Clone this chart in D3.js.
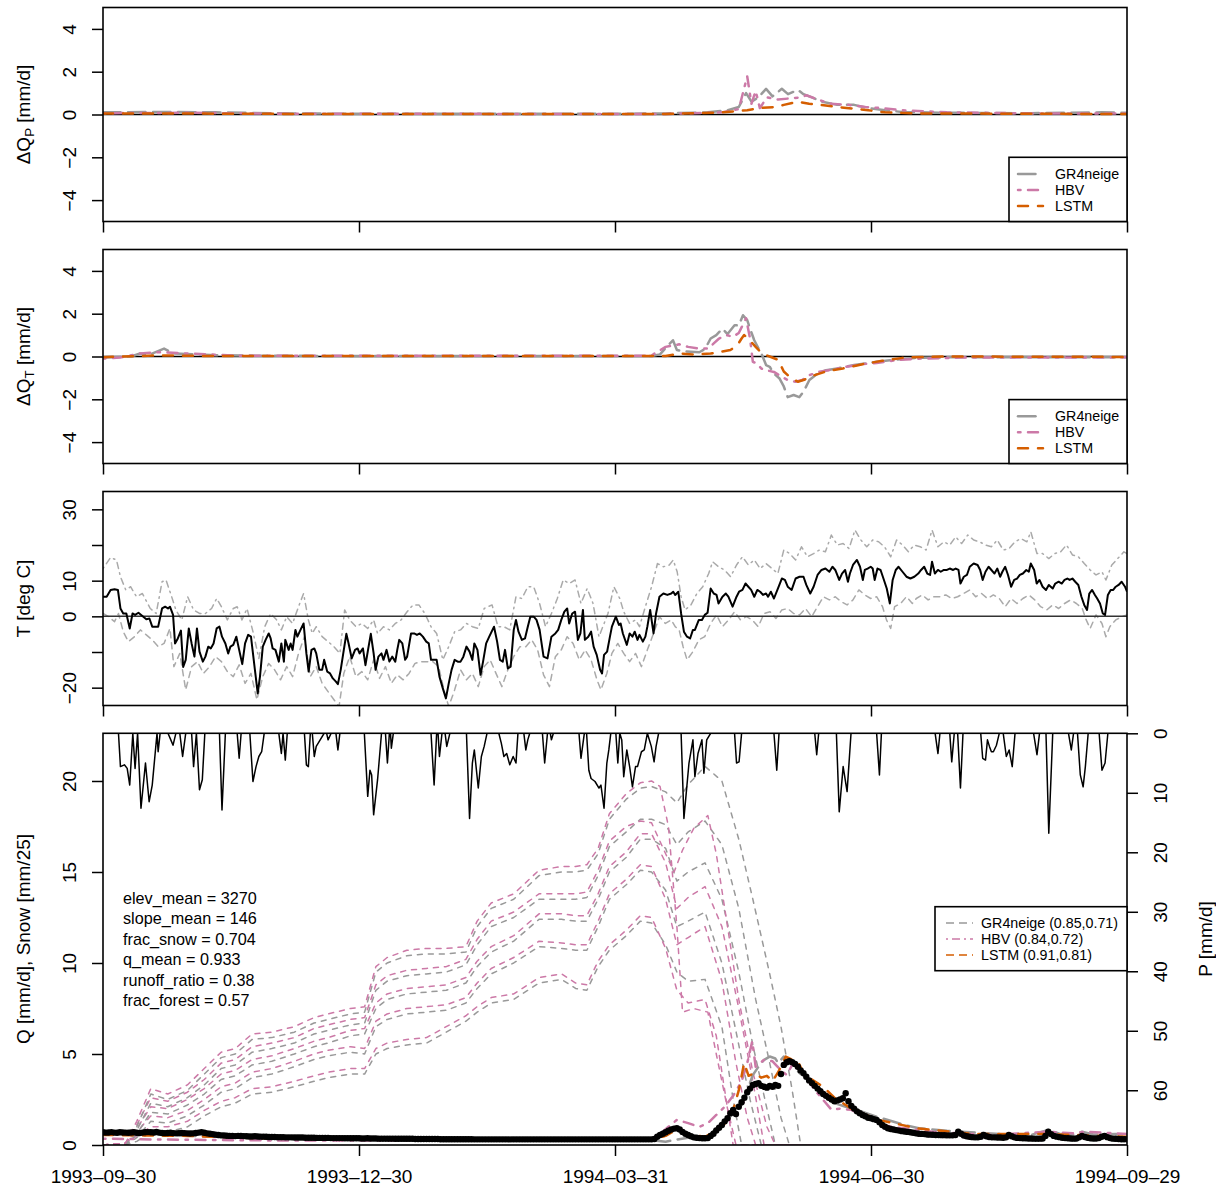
<!DOCTYPE html>
<html>
<head>
<meta charset="utf-8">
<script src="https://cdn.jsdelivr.net/npm/d3@7"></script>
<style>
  body { margin: 0; background: #fff; }
  svg text { font-family: "Liberation Sans", Arial, Helvetica, sans-serif; }
</style>
</head>
<body>
<svg id="chart" width="1216" height="1192"></svg>
<script>
// ---------- data ----------
// all series are [dayIndex, value], day 0 = 1993-09-30
var tickDays = [0, 91, 182, 273, 364];

// panel 1 : dQ_P
var dqpGR4 = [[0,0.1],[20,0.12],[40,0.1],[60,0.06],[90,0.03],[180,0.03],[200,0.05],[215,0.1],[222,0.2],[226,0.35],[228.6,1.0],[230.5,0.6],[233,0.8],[235.7,1.2],[238,0.85],[241.3,1.2],[243.5,0.95],[247,1.15],[249,0.95],[252,0.8],[255.4,0.6],[261,0.45],[267,0.45],[272,0.3],[278,0.2],[284,0.12],[300,0.08],[330,0.06],[355,0.1],[364,0.08]];
var dqpHBV = [[0,0.06],[30,0.08],[60,0.04],[200,0.02],[220,0.1],[226,0.25],[229,1.78],[230.5,0.5],[232,1.1],[233.5,0.3],[236,0.8],[240,0.7],[244,0.75],[248,0.8],[250,0.9],[254,0.7],[259,0.5],[265,0.45],[271,0.35],[277,0.3],[284,0.2],[300,0.1],[330,0.05],[364,0.05]];
var dqpLSTM = [[0,0.05],[40,0.04],[80,0.02],[200,0.02],[220,0.1],[229,0.2],[233,0.3],[239,0.35],[242,0.45],[247,0.6],[251,0.5],[255,0.45],[261,0.35],[272,0.2],[278,0.1],[290,0.05],[364,0.02]];

// panel 2 : dQ_T
var dqtGR4 = [[0,-0.05],[10,0],[13.2,0.14],[16,0.06],[21.7,0.37],[25,0.14],[40,0.06],[60,0.03],[195,0.02],[198,0.1],[200,0.4],[202.6,0.76],[204,0.3],[206,0.25],[212,0.2],[214,0.35],[216,0.84],[218,1.0],[220.2,1.3],[222,1.05],[224.5,1.46],[226,1.45],[227.5,1.93],[229,1.7],[230,1.3],[231.5,0.76],[234.3,0.06],[235.7,-0.4],[237,-0.48],[238.5,-0.8],[240.5,-1.03],[242,-1.4],[243.4,-1.9],[245.5,-1.8],[247.5,-1.9],[249,-1.65],[251.1,-1.1],[254,-0.8],[257,-0.64],[261,-0.56],[267,-0.4],[275,-0.25],[282,-0.14],[290,-0.06],[300,-0.04],[364,-0.03]];
var dqtHBV = [[0,-0.1],[6,-0.05],[13,0.14],[20,0.2],[30,0.14],[50,0.03],[190,0.03],[195,0.05],[200,0.45],[204.8,0.57],[208,0.45],[212,0.37],[215,0.37],[217,0.6],[219,0.84],[221.7,1.0],[224,0.92],[226,1.1],[228.6,1.78],[230,0.84],[231,-0.25],[232.5,-0.33],[234,-0.56],[235.7,-0.64],[238.5,-0.72],[241.3,-0.95],[243.4,-1.1],[246.2,-1.18],[248.5,-1.1],[251.1,-0.87],[254.5,-0.72],[258,-0.64],[264,-0.48],[270,-0.36],[275,-0.3],[282,-0.17],[290,-0.1],[305,-0.05],[364,-0.04]];
var dqtLSTM = [[0,-0.03],[20,0.05],[40,0.02],[200,0.02],[205,0.14],[210,0.09],[216,0.14],[223,0.3],[225.5,0.53],[227,0.84],[227.9,1.0],[230,0.75],[232,0.45],[234.3,0.14],[237,0],[240,-0.16],[242,-0.7],[244,-0.95],[247,-1.18],[249,-1.1],[253,-0.87],[257,-0.7],[263,-0.56],[270,-0.36],[277,-0.2],[285,-0.05],[300,0],[364,-0.02]];

// panel 3 : temperature
var tMean = [[0,5.5],[1.3,5.5],[2.7,7.4],[4.1,7.6],[5.3,7.4],[6.2,2.2],[7.2,0.8],[8.3,0.8],[9.5,-3.4],[10.5,0.8],[11.4,0.4],[12.6,1.0],[14,0.1],[15.4,-0.8],[16.5,-0.6],[17.5,-2.9],[18.5,-2.9],[19.6,-2.9],[21,2.2],[22.1,2.7],[23.1,2.2],[23.8,2.7],[24.9,0.4],[25.6,-7.6],[26.6,-6.2],[27.7,-4.0],[28.5,-14.2],[29.4,-12.2],[30.5,-3.4],[31.5,-7.6],[32.5,-11.3],[33.4,-3.4],[34.3,-9.9],[35.5,-12.7],[36.4,-11.3],[37.4,-8.5],[38.3,-9.0],[39.3,-7.6],[40.4,-3.4],[41.4,-2.9],[42.3,-5.7],[43.5,-7.6],[44.5,-10.4],[45.3,-8.5],[46.3,-8.0],[47.4,-5.7],[48.4,-9.4],[49.5,-13.4],[50.5,-7.6],[51.6,-5.2],[52.6,-5.7],[54,-15.0],[55,-21.6],[55.8,-16.9],[56.8,-8.5],[57.8,-6.6],[58.9,-4.8],[59.6,-6.2],[60.3,-9.0],[61.3,-9.4],[62.5,-12.7],[63.4,-7.6],[64.3,-12.7],[64.8,-6.6],[66,-9.4],[66.7,-7.6],[67.4,-9.4],[68.4,-3.8],[69.1,-5.7],[70.2,-3.8],[71.3,-2.0],[72.3,-10.4],[73.1,-15.5],[74.1,-9.4],[75.1,-9.0],[75.8,-10.4],[76.9,-15.0],[77.9,-15.0],[78.6,-12.2],[79.7,-15.5],[80.7,-16.0],[81.7,-17.4],[82.8,-18.3],[83.5,-19.0],[84.5,-15.0],[85.6,-9.4],[86.5,-4.9],[87.3,-7.6],[88.4,-11.8],[89.6,-9.4],[90.5,-9.0],[91.2,-10.4],[92.4,-9.0],[93.3,-13.7],[94.3,-9.0],[95.2,-4.9],[96.2,-10.4],[96.9,-15.0],[97.9,-11.3],[99,-10.4],[99.7,-12.2],[100.8,-9.4],[101.8,-12.7],[102.8,-11.3],[103.9,-12.7],[104.6,-9.4],[105.3,-6.6],[106.4,-7.6],[107.4,-12.2],[108.1,-11.3],[109.5,-4.8],[110.6,-4.8],[111.6,-5.2],[112.6,-4.8],[113.7,-5.7],[114.9,-7.1],[115.8,-7.6],[116.6,-12.2],[117.9,-12.2],[118.6,-12.2],[119.6,-16.9],[120.8,-20.2],[121.9,-23.0],[122.9,-18.8],[123.9,-15.0],[125,-12.2],[126.1,-12.7],[127.1,-12.7],[128.1,-11.3],[129.2,-8.5],[130.3,-9.9],[131.3,-12.2],[132,-7.6],[133.1,-9.4],[134.2,-16.4],[135.1,-12.7],[136.2,-7.6],[137.3,-5.7],[139,-2.9],[140.1,-7.1],[141.1,-12.2],[142.1,-12.7],[142.9,-9.4],[143.9,-14.6],[144.9,-14.1],[146,-3.8],[146.8,-1.0],[147.7,-4.3],[148.9,-6.6],[150,-6.2],[151,-2.9],[151.9,-0.1],[153.1,-0.1],[154.1,-1.0],[155.2,-3.8],[156.6,-11.3],[158,-11.8],[159.4,-5.7],[160.8,-4.8],[161.8,-3.8],[162.9,-1.0],[164,1.3],[165,2.2],[165.7,-2.0],[166.8,0.8],[167.8,1.3],[168.8,-6.6],[169.7,-4.8],[170.6,1.8],[171.3,-6.6],[172.5,-5.7],[173.5,-4.3],[174.4,-8.5],[175.5,-10.8],[176.7,-15.0],[177.4,-16.0],[178.1,-10.8],[179.2,-9.9],[180.2,-5.7],[180.9,-2.9],[182.3,-0.1],[183.4,-2.4],[184,-2.0],[184.8,-4.8],[186.2,-8.0],[187.2,-4.8],[188.2,-5.7],[189,-4.3],[190,-6.6],[190.7,-5.2],[191.9,-7.1],[192.8,-5.7],[193.5,-2.9],[194.5,1.8],[195.7,-4.8],[196.6,0.8],[197.8,5.5],[199.2,6.4],[200.6,6.0],[202,6.4],[202.7,6.9],[203.4,6.0],[204.5,6.9],[205.5,0.8],[206.5,-4.3],[207.6,-5.7],[208.7,-6.2],[209.7,-3.8],[210.4,-3.8],[211.8,-1.0],[212.9,-1.0],[213.9,0.4],[214.9,1.0],[216,7.8],[217.1,6.4],[218.1,6.0],[218.8,3.6],[220.2,5.5],[221.4,6.4],[222.3,5.5],[223.8,2.7],[225.2,5.5],[226.1,6.9],[227.3,7.4],[228.4,9.2],[229.4,8.3],[230.4,7.4],[231.5,5.5],[232.6,7.4],[233.6,6.9],[234.6,6.0],[235.7,6.4],[236.4,5.5],[237.4,6.9],[238.5,5.0],[239.9,7.8],[241.3,10.6],[242.4,10.2],[243.4,8.3],[244.8,7.4],[246.2,10.6],[247.6,11.1],[249,11.1],[250,8.8],[251.4,6.4],[252.6,8.3],[254,11.6],[255.4,13.0],[256.8,13.4],[258.2,12.5],[259.3,13.9],[260.3,13.0],[261.7,10.2],[262.7,12.0],[263.8,13.0],[264.8,9.7],[265.5,12.0],[266.6,14.4],[268,15.8],[269.1,13.9],[270.1,10.2],[270.8,13.0],[271.8,13.4],[272.9,13.9],[273.6,13.4],[274.3,10.2],[275.3,13.4],[276.4,13.0],[277.6,10.2],[278.6,7.8],[279.7,3.6],[280.7,10.2],[281.8,13.0],[282.8,13.9],[284.2,12.5],[285.6,11.1],[287,10.6],[288.4,11.1],[289.8,12.0],[290.8,13.0],[291.9,13.9],[293,12.0],[294,11.6],[294.7,15.3],[295.7,12.0],[296.8,13.0],[297.8,12.5],[298.9,13.0],[300,13.0],[301,13.4],[302.2,13.0],[303.1,13.4],[304.1,13.0],[304.8,9.2],[306,11.1],[307.1,11.6],[308.1,13.9],[309.5,14.8],[310.9,14.4],[311.8,13.0],[312.7,10.2],[313.7,12.5],[314.8,13.9],[315.8,13.0],[316.9,12.0],[317.9,13.4],[318.9,11.1],[319.7,12.5],[320.7,13.9],[321.7,11.6],[322.8,8.3],[323.9,10.2],[324.9,10.6],[325.9,11.6],[327,12.0],[328.2,13.0],[329.1,12.5],[329.8,14.8],[331,13.0],[331.9,9.2],[332.9,10.2],[334,8.3],[335.2,7.4],[336.2,8.8],[337.6,7.8],[338.5,9.2],[339.7,9.7],[340.8,9.2],[341.8,10.2],[342.8,10.6],[343.6,10.2],[344.6,10.6],[345.6,9.7],[346.7,8.8],[347.8,5.5],[348.8,3.2],[349.8,1.8],[350.6,6.4],[351.6,7.4],[352.6,6.0],[353.4,5.0],[354.4,3.6],[355.4,0.8],[356.2,0.4],[357.2,6.0],[358.2,7.4],[359.1,7.4],[360,8.3],[361,8.8],[362.1,9.7],[363.3,8.3],[364,6.9]];
var tMax = [[0,13.4],[2.7,16.5],[4.8,15.8],[6.2,11.1],[8.1,7.4],[9.8,8.3],[11.9,5.5],[14,6.4],[16.8,2.2],[18.9,0.8],[21,9.7],[22.4,10.2],[24.2,6.0],[25.9,1.8],[28,-1.0],[30.1,5.5],[32.2,1.8],[34.3,0.8],[36.4,0.8],[38.6,2.2],[40.4,5.0],[42.1,2.7],[44.2,-1.0],[46.3,2.2],[47.7,2.7],[49.4,-1.0],[51.2,2.2],[53.3,-4.3],[55.4,-11.8],[57.5,-2.9],[59.6,0.8],[61.7,-1.0],[63.4,-3.8],[65.3,-0.1],[67.4,-2.0],[69.5,2.7],[71.3,6.4],[73,-1.0],[74.4,-4.8],[75.8,-2.9],[77.9,-5.7],[80,-7.1],[82.1,-8.5],[84.2,-10.4],[85.9,1.8],[87.7,-1.0],[89.9,-2.9],[92,-2.0],[94.1,-3.4],[96.2,-1.0],[97.6,-4.8],[99.7,-2.9],[101.8,-3.8],[103.9,-2.0],[106,-1.0],[108.1,1.3],[110.2,3.2],[112.3,3.2],[114.4,0.8],[116.6,-2.9],[118.6,-4.8],[120.8,-12.2],[122.9,-8.5],[125,-4.3],[127.1,-3.8],[129.2,-2.0],[131.3,-2.9],[133.4,-3.4],[135.5,2.2],[138.3,3.2],[140.4,-2.9],[142.5,-2.9],[144.6,-3.8],[146.8,5.5],[148.9,5.0],[151,8.3],[153.1,8.3],[155.2,3.6],[157.3,-2.9],[159.4,0.8],[161.5,5.0],[163.6,10.2],[165.7,9.2],[167.8,10.2],[169.9,3.6],[172.1,7.8],[174.2,3.6],[176.3,-5.7],[179.5,0.8],[181.6,8.3],[183.7,5.0],[185.1,1.3],[187.2,-2.0],[189.3,-1.0],[190.7,-2.9],[192.8,2.7],[195,8.3],[197.1,14.8],[199.2,13.9],[201.3,14.4],[202.7,15.8],[204.1,12.5],[205.5,5.5],[206.9,1.8],[209,3.2],[211.1,6.4],[213.2,8.3],[215.3,12.0],[216.7,15.3],[218.8,13.9],[220.9,13.0],[223.1,11.1],[225.2,14.4],[227.3,16.7],[229.4,14.4],[231.5,15.8],[233.6,13.4],[235.7,14.8],[237.8,13.4],[239.9,12.0],[242,18.6],[244.1,17.6],[246.2,15.8],[248.3,19.5],[250.4,16.7],[252.6,17.6],[254.7,18.6],[256.8,18.1],[258.9,22.8],[261,20.0],[263.1,20.4],[265.2,19.0],[267.3,24.2],[269.4,21.4],[271.5,19.5],[273.6,21.4],[275.7,20.9],[277.8,19.5],[280,16.7],[282.1,21.4],[284.2,20.0],[286.3,18.1],[288.4,20.0],[290.5,19.5],[292.6,18.6],[294.7,24.2],[296.8,19.5],[298.9,20.9],[301,20.0],[303.1,22.3],[305.2,20.4],[307.4,22.8],[309.5,21.4],[311.6,20.9],[313.7,20.0],[315.8,19.5],[317.9,21.4],[320,18.6],[322.1,19.0],[324.2,20.9],[326.3,21.8],[328.4,20.9],[329.8,23.7],[332,17.6],[334,17.6],[336.2,16.2],[338.3,17.6],[340.4,18.1],[342.5,20.0],[344.6,17.2],[346.7,16.7],[348.8,14.8],[350.9,13.0],[353,11.6],[355.1,12.5],[356.5,10.2],[358.6,14.4],[360.7,16.2],[362.9,18.1],[364,17.6]];
var tMin = [[0,0.8],[2,-0.1],[4.1,-1.5],[5.5,0.8],[7.2,-4.3],[9,-7.1],[11.2,-5.7],[13.3,-3.8],[15.4,-5.2],[17.5,-6.6],[19.6,-8.5],[21.7,-7.6],[23.8,-3.4],[25.2,-14.1],[27.3,-10.4],[29.4,-20.6],[31.5,-14.1],[33.6,-12.7],[35.7,-16.0],[37.9,-14.1],[40,-11.3],[42.1,-12.7],[44.2,-15.5],[46.3,-16.9],[48.4,-13.6],[50.5,-18.8],[52.6,-16.0],[54.7,-23.4],[56.8,-16.9],[58.9,-13.2],[61,-15.0],[63.1,-17.8],[65.3,-14.1],[67.4,-16.9],[69.5,-10.4],[71.6,-5.7],[73.7,-16.9],[75.8,-14.1],[77.9,-18.8],[80,-21.1],[82.1,-23.4],[83.9,-25.3],[85.6,-16.0],[87.7,-11.3],[89.9,-16.9],[92,-15.5],[94.1,-17.8],[96.2,-12.2],[98.3,-17.4],[100.4,-14.1],[102.5,-18.8],[104.6,-16.4],[106.7,-17.8],[108.8,-16.0],[110.9,-13.2],[113,-12.7],[115.1,-12.7],[117.2,-12.7],[119.3,-14.1],[121.5,-21.6],[122.9,-25.3],[125,-20.6],[127.1,-15.0],[129.2,-17.8],[131.3,-16.0],[133.4,-19.7],[135.5,-14.1],[137.6,-12.2],[139.7,-16.0],[141.8,-19.7],[143.9,-15.0],[146,-11.3],[148.2,-8.5],[150.3,-8.5],[152.4,-6.6],[154.5,-9.4],[156.6,-16.4],[158.7,-19.7],[160.8,-11.3],[162.9,-9.4],[165,-5.7],[167.1,-7.6],[169.3,-12.2],[171.4,-9.4],[173.5,-12.2],[175.6,-17.8],[177,-20.6],[179.1,-16.0],[180.9,-10.4],[183,-7.6],[185.1,-10.4],[187.2,-12.7],[189.3,-10.4],[191.4,-14.1],[193.5,-9.4],[195.7,-4.8],[197.8,-0.1],[199.9,-2.0],[202,-1.0],[203.4,-2.9],[204.8,-3.8],[206.2,-8.5],[207.6,-12.2],[209.7,-9.9],[211.8,-6.6],[213.9,-5.7],[216,-2.0],[218.1,0.4],[220.2,-2.9],[222.4,-1.0],[224.5,1.3],[226.6,-1.0],[228.7,-0.1],[230.8,-1.0],[232.9,-2.9],[235,0.8],[237.1,1.3],[239.2,-0.6],[241.3,1.8],[243.4,2.2],[245.5,0.8],[247.6,0.4],[249.7,2.2],[251.9,-0.1],[254,2.7],[256.1,5.5],[258.2,4.6],[260.3,5.5],[262.4,4.1],[264.5,3.2],[266.6,4.6],[268.7,7.4],[270.8,6.0],[272.9,5.0],[275,5.5],[277.1,2.7],[278.5,-1.0],[280,-3.4],[281.4,2.7],[283.5,3.6],[285.6,5.5],[287.7,3.6],[289.1,5.0],[291.2,6.0],[293.3,4.6],[295.4,5.5],[297.5,5.5],[299.6,6.0],[301.7,5.0],[303.8,5.5],[305.9,6.4],[308.1,7.4],[310.2,5.5],[312.3,6.4],[314.4,5.0],[316.5,6.0],[318.6,5.0],[320.7,2.7],[322.8,5.0],[324.9,3.6],[327,5.0],[329.1,6.0],[331.2,4.6],[333.3,2.7],[335.5,1.8],[337.6,3.2],[339.7,2.2],[341.8,3.6],[343.9,4.6],[346,3.6],[348.1,2.2],[349.5,-1.0],[350.9,-3.4],[353,0.4],[355.1,-2.0],[356.5,-5.7],[357.9,-2.9],[360,-1.0],[362.2,-0.1],[364,0.4]];

// panel 4 : precipitation (right axis, reversed)
var precip = [[0,0],[5.5,0],[6.2,5.6],[7.6,5.3],[8.6,5.9],[9.5,8.7],[10.6,0],[11.4,5.9],[12.3,0],[13.5,12.6],[15.1,5.0],[16.4,11.5],[17.5,8.7],[19.2,0],[19.6,3.1],[20.3,0],[23.1,0],[24.1,1.1],[24.9,2.0],[25.9,0],[27.3,0],[28.3,3.9],[29.4,0],[31.5,0],[32.2,5.6],[33.2,0],[34.3,9.5],[35.3,7.8],[36.2,0],[41.4,0],[42.3,12.9],[43.5,0],[47.7,0],[48.4,4.2],[49.1,0],[52.2,0],[53.3,8.1],[54.4,5.6],[55.4,3.9],[56.4,3.1],[57.3,0],[62.5,0],[63.4,3.4],[64,0],[64.8,4.5],[65.5,0],[71.6,0],[72.3,5.3],[73,5.6],[73.7,0],[74.4,0],[75.1,3.9],[75.8,2.2],[77.2,1.1],[78.6,0],[79.5,0],[80,1.1],[81.1,0],[82.8,0],[83.5,2.8],[84.2,0],[92.9,0],[94.1,10.6],[94.9,6.2],[95.5,7.0],[96.2,13.7],[97.6,7.8],[99,0],[100.4,0],[101.1,5.0],[101.8,0],[102.2,0],[102.5,2.5],[103.2,0],[116.6,0],[117.7,8.7],[118.6,0],[119.1,0],[119.6,3.9],[120.5,0],[121.6,0],[122.2,2.2],[123.3,0],[129.2,0],[130.3,14.3],[131.3,5.0],[132,2.8],[133.4,9.2],[134.5,3.9],[135.5,2.2],[136.5,0],[140.7,0],[141.6,1.7],[142.5,3.9],[143.5,3.4],[144.6,5.3],[145.8,3.9],[146.8,5.0],[147.5,0],[149.6,0],[150.3,2.8],[151,1.1],[151.7,0],[156.2,0],[157,5.0],[158,0],[159,0],[159.4,1.1],[160.1,0],[169.2,0],[169.9,4.2],[171.1,0],[171.9,0],[172.7,6.2],[173.5,7.6],[174.9,8.1],[176.3,9.2],[177,8.7],[178.1,12.6],[179.1,5.0],[179.8,2.8],[180.5,0],[182.3,0],[183,5.0],[183.7,0],[184.4,1.1],[185.1,7.3],[186.2,2.8],[187.2,5.6],[188.2,9.0],[189.3,5.6],[190,5.6],[191.4,3.1],[192.4,2.8],[193.5,0],[194.9,2.2],[195.9,4.8],[196.6,2.2],[197.5,0],[205.5,0],[206.5,14.3],[208.3,5.0],[209.7,1.1],[210.4,7.3],[211.5,3.4],[212.9,1.1],[213.6,6.7],[214.6,1.1],[216,0],[224.5,0],[225.2,5.0],[226.1,4.8],[227,0],[238.5,0],[239.5,6.2],[240.3,0],[253,0],[253.7,3.6],[254.4,0],[260.7,0],[261.7,13.2],[263.1,5.6],[264.5,9.8],[265.9,0],[275,0],[276,7.0],[276.7,0],[295.8,0],[296.8,3.4],[297.5,0],[301,0],[301.7,4.8],[302.6,0],[303.8,0],[304.8,9.2],[305.7,0],[312,0],[312.7,4.2],[313.7,4.5],[314.4,1.1],[315.1,2.2],[315.8,3.1],[316.5,3.1],[317.6,2.0],[318.6,0],[320,0],[321.1,3.9],[322.1,2.8],[323.2,5.6],[324.2,0],[330.8,0],[332,3.6],[332.9,0],[335.2,0],[336.2,16.8],[337.6,0],[343.2,0],[344.2,2.8],[345,0],[346.4,0],[347.4,7.0],[348.4,9.0],[349.2,5.6],[350.2,0],[354.1,0],[355.1,6.2],[356.2,5.0],[357.2,0],[364,0]];

// panel 4 : observed runoff, one value per day
var qObs = [
.70,.68,.69,.71,.68,.67,.70,.69,.68,.67,
.69,.70,.67,.66,.68,.70,.71,.70,.69,.72,
.68,.66,.65,.66,.67,.65,.64,.65,.66,.65,
.64,.63,.64,.66,.68,.70,.67,.64,.62,.60,
.57,.55,.53,.52,.51,.50,.50,.49,.50,.50,
.49,.48,.47,.47,.48,.47,.46,.46,.45,.44,
.44,.44,.43,.43,.43,.42,.42,.42,.41,.41,
.41,.41,.40,.40,.40,.40,.39,.39,.39,.39,
.39,.38,.38,.38,.38,.38,.37,.37,.37,.37,
.37,.37,.36,.36,.37,.36,.36,.36,.35,.35,
.35,.35,.35,.35,.34,.34,.34,.34,.34,.34,
.34,.33,.33,.33,.33,.33,.33,.33,.33,.33,
.32,.32,.32,.32,.32,.32,.32,.32,.32,.32,
.32,.32,.31,.31,.31,.31,.31,.31,.31,.31,
.31,.31,.31,.31,.31,.31,.31,.31,.31,.31,
.31,.31,.31,.31,.31,.31,.31,.31,.31,.31,
.31,.31,.31,.31,.31,.31,.31,.31,.31,.31,
.31,.31,.31,.31,.31,.31,.31,.31,.31,.31,
.31,.31,.31,.31,.31,.31,.31,.31,.31,.31,
.31,.31,.31,.31,.31,.31,.33,.45,.55,.62,
.70,.78,.85,.90,.92,.85,.72,.62,.55,.48,
.42,.40,.38,.37,.37,.38,.50,.62,.80,.95,
1.10,1.30,1.47,1.75,1.93,1.70,2.10,2.35,2.60,2.90,
3.10,3.30,3.35,3.40,3.25,3.20,3.15,3.25,3.20,3.30,
3.25,3.90,4.40,4.55,4.60,4.55,4.45,4.30,4.10,3.95,
3.75,3.55,3.40,3.25,3.10,2.95,2.80,2.70,2.60,2.50,
2.40,2.45,2.50,2.57,2.84,2.40,2.15,2.00,1.85,1.75,
1.65,1.58,1.50,1.47,1.42,1.38,1.25,1.10,1.00,0.92,
0.88,0.85,0.82,0.79,0.76,0.74,0.72,0.70,0.67,0.64,
0.62,0.61,0.60,0.58,0.57,0.56,0.55,0.55,0.54,0.54,
0.53,0.53,0.53,0.55,0.73,0.62,0.52,0.48,0.45,0.43,
0.42,0.42,0.45,0.55,0.48,0.44,0.42,0.42,0.41,0.41,
0.40,0.42,0.55,0.48,0.42,0.39,0.38,0.37,0.37,0.36,
0.36,0.35,0.35,0.35,0.36,0.50,0.73,0.60,0.50,0.46,
0.43,0.40,0.38,0.37,0.36,0.35,0.36,0.42,0.50,0.44,
0.40,0.37,0.36,0.36,0.38,0.45,0.50,0.43,0.38,0.35,
0.34,0.33,0.32,0.32,0.31];

// panel 4 : simulated runoff
var qGR4 = [[0,0.62],[20,0.58],[40,0.45],[60,0.38],[100,0.32],[150,0.3],[190,0.3],[196,0.25],[200,0.18],[204,0.3],[210,0.45],[215,0.5],[218,0.9],[221,1.3],[224,1.7],[227,2.2],[229,3.0],[231,3.85],[233,4.3],[235,4.68],[237,4.86],[239,4.75],[240,4.5],[242,4.86],[244,4.7],[246,4.2],[248,3.9],[251,3.6],[254,3.2],[257,2.8],[260,2.3],[264,2.1],[268,1.93],[275,1.56],[285,1.1],[290,0.92],[300,0.78],[310,0.68],[320,0.6],[330,0.56],[336,0.83],[340,0.62],[345,0.55],[348,0.73],[352,0.58],[360,0.6],[364,0.55]];
var qHBV = [[0,0.35],[20,0.3],[60,0.25],[150,0.25],[190,0.28],[195,0.35],[198,0.6],[201,1.0],[204,1.38],[208,1.2],[212,1.0],[215,1.2],[218,1.65],[221,2.1],[224,2.7],[227,3.5],[229,4.5],[230.8,5.7],[232,4.3],[235,4.68],[238,4.6],[241,4.1],[243,3.85],[245,4.4],[248,4.3],[250,3.67],[254,2.84],[259,1.93],[262,2.0],[266,1.93],[272,1.47],[280,1.0],[295,0.73],[315,0.55],[336,0.73],[345,0.64],[349,0.73],[360,0.64],[364,0.6]];
var qLSTM = [[0,0.55],[30,0.5],[60,0.35],[150,0.3],[195,0.3],[200,0.5],[204,0.85],[208,0.6],[214,0.45],[218,0.8],[222,1.3],[224,1.93],[226,3.0],[227.9,4.5],[229.5,3.8],[231.5,3.95],[234,3.7],[236,3.8],[238,3.5],[240,4.0],[242.7,4.86],[245,4.68],[247,4.6],[249,3.95],[252,3.6],[256,3.2],[260,2.6],[266,2.0],[275,1.4],[290,0.9],[310,0.6],[336,0.6],[364,0.45]];

// panel 4 : snow storage per elevation band (mm/25), accumulation nodes + melt nodes
var snowDays = [0,8,12,17,23,30,36,42,47,53,60,68,75,80,88,93,97,101,108,115,122,129,133,138,146,155,163,168,172,176,180,186,191,195];
var snowG1 = [0,0,0.2,0.7,0.7,1.0,1.6,2.1,2.3,2.8,2.9,3.2,3.5,3.7,3.9,3.9,5.0,5.3,5.5,5.6,6.2,6.8,7.3,7.8,8.0,8.9,9.1,8.6,8.5,9.8,10.7,11.5,12.3,12.2];
var snowG2 = [0,0,0.4,1.3,1.2,1.6,2.2,2.9,3.1,3.7,3.9,4.3,4.7,4.9,5.1,5.0,6.5,6.9,7.2,7.3,7.4,7.8,8.6,9.4,10.0,10.9,10.8,10.7,10.7,12.0,13.5,14.3,15.1,15.0];
var snowG3 = [0,0,0.6,1.8,1.7,2.2,2.8,3.6,3.8,4.4,4.6,5.0,5.4,5.6,6.0,6.1,7.5,8.0,8.3,8.4,8.5,8.9,9.8,10.6,11.2,12.4,12.4,12.3,12.3,13.5,15.0,15.8,16.8,16.8];
var snowG4 = [0,0,0.8,2.3,2.1,2.6,3.3,4.2,4.4,5.1,5.3,5.6,6.1,6.3,6.6,6.7,8.5,9.0,9.3,9.4,9.5,9.9,11.0,12.0,12.5,13.5,13.5,13.5,13.6,14.8,16.4,17.2,17.9,17.9];
var snowG5 = [0,0,1.0,2.8,2.5,3.0,3.9,4.8,5.0,5.8,5.9,6.2,6.7,6.9,7.2,7.3,9.5,10.0,10.4,10.5,10.5,10.6,12.0,13.0,13.5,14.8,15.0,15.0,15.1,16.0,17.9,19.0,19.6,19.7];
var snowH1 = [0,0.1,0.5,1.0,1.0,1.3,1.9,2.4,2.6,3.1,3.2,3.5,3.8,4.0,4.2,4.2,5.3,5.6,5.8,5.9,6.5,7.1,7.6,8.1,8.3,9.2,9.4,8.9,8.8,10.1,11.0,11.8,12.6,12.5];
var snowH2 = [0,0.1,0.7,1.6,1.5,1.9,2.5,3.2,3.4,4.0,4.2,4.6,5.0,5.2,5.4,5.3,6.8,7.2,7.5,7.6,7.7,8.1,8.9,9.7,10.3,11.2,11.1,11.0,11.0,12.3,13.8,14.6,15.4,15.3];
var snowH3 = [0,0.1,0.9,2.1,2.0,2.5,3.1,3.9,4.1,4.7,4.9,5.3,5.7,5.9,6.3,6.4,7.8,8.3,8.6,8.7,8.8,9.2,10.1,10.9,11.5,12.7,12.7,12.6,12.6,13.8,15.3,16.1,17.1,17.1];
var snowH4 = [0,0.1,1.1,2.6,2.4,2.9,3.6,4.5,4.7,5.4,5.6,5.9,6.4,6.6,6.9,7.0,8.8,9.3,9.6,9.7,9.8,10.2,11.3,12.3,12.8,13.8,13.8,13.8,13.9,15.1,16.7,17.5,17.8,17.7];
var snowH5 = [0,0.1,1.3,3.1,2.8,3.3,4.2,5.1,5.3,6.1,6.2,6.5,7.0,7.2,7.5,7.6,9.8,10.3,10.7,10.8,10.8,10.9,12.3,13.3,13.8,15.1,15.3,15.3,15.4,16.3,18.2,19.3,19.9,20.0];
var meltG1 = [[200,11.0],[204,9.5],[208,9.0],[214,9.1],[220,6.5],[224,2.5],[227,0],[364,0]];
var meltG2 = [[200,14.0],[204,12.0],[208,12.3],[214,12.8],[220,10.0],[226,5.5],[230,2.5],[234,0],[364,0]];
var meltG3 = [[200,16.3],[204,14.5],[208,15.0],[214,15.5],[220,13.5],[226,9.5],[231,5.5],[236,2.0],[239,0],[364,0]];
var meltG4 = [[200,17.6],[204,16.5],[208,17.2],[214,17.8],[220,16.5],[226,13.0],[232,8.0],[237,4.5],[241,1.5],[244,0],[364,0]];
var meltG5 = [[200,19.4],[204,18.8],[208,19.8],[214,20.8],[220,20.0],[226,16.8],[231,13.5],[237,9.4],[241,6.5],[245,3.0],[248,0],[364,0]];
var meltH1 = [[200,10.8],[204,8.5],[208,7.8],[214,8.0],[218,6.0],[222,2.0],[224,0],[364,0]];
var meltH2 = [[200,13.5],[204,11.0],[208,11.4],[214,12.0],[220,9.0],[225,4.5],[229,1.5],[232,0],[364,0]];
var meltH3 = [[200,15.5],[204,13.0],[208,13.6],[214,14.2],[220,12.0],[226,7.5],[231,3.5],[235,0],[364,0]];
var meltH4 = [[200,16.0],[203,15.0],[206,16.2],[210,17.4],[215,18.1],[218,16.0],[222,12.0],[226,8.0],[231,4.0],[236,1.0],[239,0],[364,0]];
var meltH5 = [[198,19.7],[201,17.5],[204,12.0],[206,7.3],[210,7.5],[215,7.3],[218,5.0],[222,2.0],[225,0],[364,0]];

var modelNames = ["GR4neige", "HBV", "LSTM"];
var modelScores = ["(0.85,0.71)", "(0.84,0.72)", "(0.91,0.81)"];
var attrLines = ["elev_mean = 3270", "slope_mean = 146", "frac_snow = 0.704", "q_mean = 0.933", "runoff_ratio = 0.38", "frac_forest = 0.57"];

// ---------- layout ----------
var X0 = 103, X1 = 1127;
var FS = 19;
var colGR4 = "#999999", colHBV = "#CC79A7", colLSTM = "#D55E00";
var dashGR4 = "17.5,7.5", dashHBV = "2.5,7.5,10,7.5", dashLSTM = "10,10";

var svg = d3.select("#chart");
var t0 = Date.UTC(1993, 8, 30);
function toDate(d) { return new Date(t0 + d * 864e5); }
var x = d3.scaleUtc().domain([toDate(0), toDate(364)]).range([X0, X1]);

var y1 = d3.scaleLinear().domain([-5, 5]).range([221.5, 7.5]);
var y2 = d3.scaleLinear().domain([-5, 5]).range([463.5, 249.5]);
var y3 = d3.scaleLinear().domain([-25, 35]).range([705.5, 491.5]);
var yQ = d3.scaleLinear().domain([0, 22.62]).range([1145, 733.3]);
var yP = d3.scaleLinear().domain([0, 69.2]).range([733.3, 1145]);

var defs = svg.append("defs");
function clip(id, ys) {
    defs.append("clipPath").attr("id", id).append("rect")
        .attr("x", X0).attr("y", Math.min(ys.range()[0], ys.range()[1]))
        .attr("width", X1 - X0)
        .attr("height", Math.abs(ys.range()[0] - ys.range()[1]));
    return svg.append("g").attr("clip-path", "url(#" + id + ")");
}

function path(g, data, ys, col, w, dash) {
    var line = d3.line().x(function(d) { return x(toDate(d[0])); }).y(function(d) { return ys(d[1]); });
    g.append("path").datum(data).attr("d", line)
        .attr("fill", "none").attr("stroke", col).attr("stroke-width", w)
        .attr("stroke-linecap", dash ? "round" : "butt").attr("stroke-linejoin", "round")
        .attr("stroke-dasharray", dash || null);
}

function zeroLine(g, ys, col) {
    g.append("line").attr("x1", X0).attr("x2", X1).attr("y1", ys(0)).attr("y2", ys(0))
        .attr("stroke", col).attr("stroke-width", 1.5);
}

function leftAxis(ys, ticks, labelled) {
    var g = svg.append("g").attr("transform", "translate(" + X0 + ",0)")
        .call(d3.axisLeft(ys).tickValues(ticks).tickSize(11).tickSizeOuter(0)
            .tickFormat(function(d) { return labelled.indexOf(d) >= 0 ? String(d).replace("-", "\u2212") : ""; }));
    g.select(".domain").remove();
    g.selectAll("line").attr("stroke", "#000").attr("stroke-width", 1.5);
    g.selectAll("text").attr("x", 0).attr("dy", "0.36em").attr("text-anchor", "middle")
        .attr("transform", "translate(-34,0) rotate(-90)")
        .attr("font-size", FS).attr("fill", "#000");
    g.attr("font-family", null);
}

function bottomAxis(yPix, withLabels) {
    var g = svg.append("g").attr("transform", "translate(0," + yPix + ")")
        .call(d3.axisBottom(x).tickValues(tickDays.map(toDate)).tickSize(11).tickSizeOuter(0)
            .tickFormat(withLabels ? function(d) { return d3.utcFormat("%Y-%m-%d")(d).replace(/-/g, "\u2013"); } : ""));
    g.select(".domain").remove();
    g.selectAll("line").attr("stroke", "#000").attr("stroke-width", 1.5);
    g.selectAll("text").attr("y", 38).attr("dy", 0).attr("font-size", FS).attr("fill", "#000");
    g.attr("font-family", null);
}

function frame(ys) {
    var r = ys.range();
    svg.append("rect").attr("x", X0).attr("y", Math.min(r[0], r[1]))
        .attr("width", X1 - X0).attr("height", Math.abs(r[0] - r[1]))
        .attr("fill", "none").attr("stroke", "#000").attr("stroke-width", 1.6);
}

function yTitle(xc, yc, parts) {
    var t = svg.append("text").attr("transform", "translate(" + xc + "," + yc + ") rotate(-90)")
        .attr("text-anchor", "middle").attr("dy", "0.36em").attr("font-size", FS);
    parts.forEach(function(p) {
        var s = t.append("tspan").text(p.t);
        if (p.sub) s.attr("font-size", FS * 0.7).attr("dy", 4);
        if (p.back) s.attr("dy", -4);
    });
}

function legendTop(ys, top) {
    var g = svg.append("g");
    g.append("rect").attr("x", 1009).attr("y", top).attr("width", X1 - 1009).attr("height", ys.range()[0] - top)
        .attr("fill", "#fff").attr("stroke", "#000").attr("stroke-width", 1.6);
    var cols = [colGR4, colHBV, colLSTM], dashes = [dashGR4, dashHBV, dashLSTM];
    modelNames.forEach(function(n, i) {
        var yy = top + 16.7 + i * 16;
        g.append("line").attr("x1", 1018).attr("x2", 1043).attr("y1", yy).attr("y2", yy)
            .attr("stroke", cols[i]).attr("stroke-width", 2.5).attr("stroke-linecap", "round")
            .attr("stroke-dasharray", dashes[i]);
        g.append("text").attr("x", 1055).attr("y", yy).attr("dy", "0.36em").attr("font-size", 14.25).text(n);
    });
}

// ---------- panel 1 ----------
var g1 = clip("c1", y1);
zeroLine(g1, y1, "#000");
path(g1, dqpGR4, y1, colGR4, 2.5, dashGR4);
path(g1, dqpHBV, y1, colHBV, 2.5, dashHBV);
path(g1, dqpLSTM, y1, colLSTM, 2.5, dashLSTM);
frame(y1);
leftAxis(y1, [-4, -2, 0, 2, 4], [-4, -2, 0, 2, 4]);
bottomAxis(221.5, false);
yTitle(23, y1(0), [{t: "\u0394Q"}, {t: "P", sub: true}, {t: " [mm/d]", back: true}]);
legendTop(y1, 157.3);

// ---------- panel 2 ----------
var g2 = clip("c2", y2);
zeroLine(g2, y2, "#000");
path(g2, dqtGR4, y2, colGR4, 2.5, dashGR4);
path(g2, dqtHBV, y2, colHBV, 2.5, dashHBV);
path(g2, dqtLSTM, y2, colLSTM, 2.5, dashLSTM);
frame(y2);
leftAxis(y2, [-4, -2, 0, 2, 4], [-4, -2, 0, 2, 4]);
bottomAxis(463.5, false);
yTitle(23, y2(0), [{t: "\u0394Q"}, {t: "T", sub: true}, {t: " [mm/d]", back: true}]);
legendTop(y2, 399.6);

// ---------- panel 3 ----------
var g3 = clip("c3", y3);
path(g3, tMax, y3, "#aaaaaa", 1.5, "1.5,4.5,6,4.5");
path(g3, tMin, y3, "#aaaaaa", 1.5, "6,5");
zeroLine(g3, y3, "#333");
path(g3, tMean, y3, "#000", 2, null);
frame(y3);
leftAxis(y3, [-20, -10, 0, 10, 20, 30], [-20, 0, 10, 30]);
bottomAxis(705.5, false);
yTitle(23, y3(5), [{t: "T [deg C]"}]);

// ---------- panel 4 ----------
var g4 = clip("c4", yQ);
var snowG = [snowG1, snowG2, snowG3, snowG4, snowG5], meltG = [meltG1, meltG2, meltG3, meltG4, meltG5];
var snowH = [snowH1, snowH2, snowH3, snowH4, snowH5], meltH = [meltH1, meltH2, meltH3, meltH4, meltH5];
snowG.forEach(function(acc, b) {
    path(g4, snowDays.map(function(d, i) { return [d, acc[i]]; }).concat(meltG[b]), yQ, colGR4, 1.5, "5,6");
    path(g4, snowDays.map(function(d, i) { return [d, snowH[b][i]]; }).concat(meltH[b]), yQ, colHBV, 1.5, "5,6");
});
path(g4, precip, function(v) { return yP(v); }, "#000", 1.5, null);
path(g4, qGR4, yQ, colGR4, 2.5, dashGR4);
path(g4, qHBV, yQ, colHBV, 2.5, dashHBV);
path(g4, qLSTM, yQ, colLSTM, 2.5, dashLSTM);
g4.append("g").selectAll("circle").data(qObs).join("circle")
    .attr("cx", function(d, i) { return x(toDate(i)); })
    .attr("cy", function(d) { return yQ(d); })
    .attr("r", 3.2).attr("fill", "#000");
frame(yQ);
leftAxis(yQ, [0, 5, 10, 15, 20], [0, 5, 10, 15, 20]);
bottomAxis(1145, true);
yTitle(23, 939, [{t: "Q [mm/d], Snow [mm/25]"}]);

// right axis for precipitation
var gr = svg.append("g").attr("transform", "translate(" + X1 + ",0)")
    .call(d3.axisRight(yP).tickValues([0, 10, 20, 30, 40, 50, 60]).tickSize(11).tickSizeOuter(0));
gr.select(".domain").remove();
gr.selectAll("line").attr("stroke", "#000").attr("stroke-width", 1.5);
gr.selectAll("text").attr("x", 0).attr("dy", "0.36em").attr("text-anchor", "middle")
    .attr("transform", "translate(33,0) rotate(-90)").attr("font-size", FS).attr("fill", "#000");
gr.attr("font-family", null);
yTitle(1205, 939, [{t: "P [mm/d]"}]);

// attribute text block
svg.append("g").selectAll("text").data(attrLines).join("text")
    .attr("x", 123).attr("y", function(d, i) { return 898 + i * 20.5; })
    .attr("dy", "0.36em").attr("font-size", 16.2).text(function(d) { return d; });

// bottom legend
var lg = svg.append("g");
lg.append("rect").attr("x", 935).attr("y", 906.7).attr("width", X1 - 935).attr("height", 64)
    .attr("fill", "#fff").attr("stroke", "#000").attr("stroke-width", 1.6);
var lcols = [colGR4, colHBV, colLSTM], ldash = ["8,5", "2,4,8,4", "8,5"];
modelNames.forEach(function(n, i) {
    var yy = 923 + i * 16;
    lg.append("line").attr("x1", 946).attr("x2", 973).attr("y1", yy).attr("y2", yy)
        .attr("stroke", lcols[i]).attr("stroke-width", 1.4).attr("stroke-dasharray", ldash[i]);
    lg.append("text").attr("x", 981).attr("y", yy).attr("dy", "0.36em").attr("font-size", 14.25)
        .text(n + " " + modelScores[i]);
});
</script>
</body>
</html>
